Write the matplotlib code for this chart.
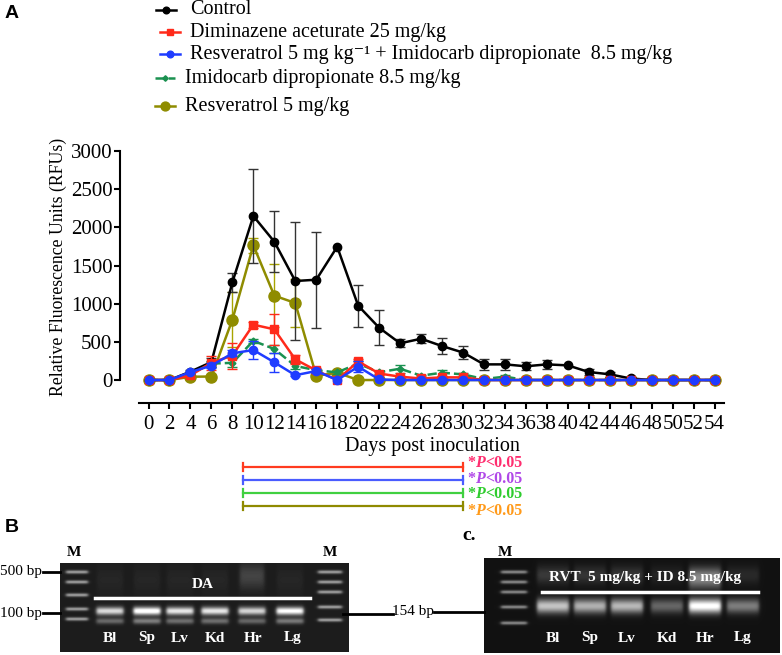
import numpy as np
import matplotlib.pyplot as plt
import matplotlib.transforms as mtransforms

plt.rcParams['font.family'] = ['Liberation Serif', 'DejaVu Serif']
plt.rcParams['mathtext.fontset'] = 'stix'

# ---- data ----
days = np.arange(0, 56, 2)

control = [0, 0, 110, 235, 1280, 2148, 1812, 1297, 1314, 1746, 974, 685, 481, 541,
           445, 360, 205, 205, 180, 205, 192, 105, 75, 20, 0, 0, 0, 0]
control_err = [0, 0, 20, 60, 125, 620, 400, 770, 630, 0, 275, 230, 50, 60,
               110, 90, 75, 75, 50, 55, 0, 45, 35, 0, 0, 0, 0, 0]

dimin = [0, 0, 60, 227, 320, 725, 664, 271, 125, 0, 245, 85, 44, 20,
         35, 35, 0, 0, 0, 0, 0, 0, 0, 0, 0, 0, 0, 0]
dimin_err = [0, 0, 15, 90, 170, 40, 200, 55, 30, 0, 30, 20, 10, 5,
             5, 5, 0, 0, 0, 0, 0, 0, 0, 0, 0, 0, 0, 0]

combo = [0, 0, 105, 188, 350, 393, 232, 63, 118, 0, 175, 8, 0, 0,
         0, 0, 0, 0, 0, 0, 0, 0, 0, 0, 0, 0, 0, 0]
combo_err = [0, 0, 10, 30, 40, 120, 125, 15, 20, 0, 70, 0, 0, 0,
             0, 0, 0, 0, 0, 0, 0, 0, 0, 0, 0, 0, 0, 0]

imido = [0, 0, 80, 215, 225, 513, 406, 185, 128, 100, 215, 102, 148, 57,
         96, 74, 13, 44, 0, 0, 0, 0, 0, 0, 0, 0, 0, 0]
imido_err = [0, 0, 10, 40, 60, 30, 50, 40, 20, 20, 40, 20, 50, 15,
             40, 20, 10, 20, 0, 0, 0, 0, 0, 0, 0, 0, 0, 0]

resv = [0, 0, 43, 46, 790, 1765, 1105, 1009, 55, 96, 0, 0, 0, 0,
        0, 0, 0, 0, 0, 0, 0, 0, 0, 0, 0, 0, 0, 0]
resv_err = [0, 0, 0, 0, 360, 100, 410, 310, 0, 0, 0, 0, 0, 0,
            0, 0, 0, 0, 0, 0, 0, 0, 0, 0, 0, 0, 0, 0]

labels = ["Control",
          "Diminazene aceturate 25 mg/kg",
          "Resveratrol 5 mg kg\u207b\u00b9 + Imidocarb dipropionate  8.5 mg/kg",
          "Imidocarb dipropionate 8.5 mg/kg",
          "Resveratrol 5 mg/kg"]
yticks = [0, 500, 1000, 1500, 2000, 2500, 3000]

sig_start, sig_end = 9, 30
sig_colors = ['#ff3b1f', '#4a5cff', '#40d040', '#8f8a00']
sig_text_colors = ['#ff2d6f', '#b048e8', '#2ecc2e', '#ff9a1a']

lanes = ["Bl", "Sp", "Lv", "Kd", "Hr", "Lg"]
gel_b_int = [0.75, 0.95, 0.8, 0.8, 0.72, 0.9]
gel_c_int = [0.7, 0.62, 0.65, 0.33, 0.95, 0.42]

# ---- style per series: (values, errors, color, marker, ms, ls, zorder, ecolor)
styles = {
    "resv": (resv, resv_err, '#8f8c00', 'o', 8, '-', 2, '#a8a400'),
    "control": (control, control_err, 'black', 'o', 6, '-', 3, '#333333'),
    "imido": (imido, imido_err, '#1a9150', 'D', 3.5, '--', 4, '#1a9150'),
    "dimin": (dimin, dimin_err, '#ff2a1a', 's', 6, '-', 5, '#ff2a1a'),
    "combo": (combo, combo_err, '#1f3cff', 'o', 6, '-', 6, '#1f3cff'),
}

W, H = 782, 655
fig = plt.figure(figsize=(W / 100, H / 100), dpi=100)
over = fig.add_axes([0, 0, 1, 1])
over.axis('off')

ax = fig.add_axes([139.3 / W, 1 - 402.7 / H, 584.7 / W, 251.7 / H])
ax.patch.set_alpha(0)

for key, (vals, errs, c, m, ms, ls, z, ec) in styles.items():
    vals = np.array(vals, float)
    errs = np.array(errs, float)
    ax.plot(days, vals, color=c, marker=m, ms=ms, ls=ls, lw=1.8, zorder=z, clip_on=False)
    sel = errs > 0
    ax.errorbar(days[sel], vals[sel], yerr=errs[sel], fmt='none', ecolor=ec,
                elinewidth=1, capsize=3.5, capthick=1, zorder=z - 0.5, clip_on=False)

ax.set_xlim(-0.88, 54.9)
ax.set_ylim(-297, 3000)
ax.set_xticks(days)
ax.set_xticklabels([str(d) for d in days])
ax.set_yticks(yticks)
ax.tick_params(axis='both', labelsize=15, width=1.5, length=4.5, direction='out')
ax.tick_params(axis='x', pad=4.5)
ax.tick_params(axis='y', pad=1)
for s in ['top', 'right']:
    ax.spines[s].set_visible(False)
ax.spines['left'].set_position(('axes', -0.033))
ax.spines['left'].set_bounds(0, 3000)
ax.spines['left'].set_linewidth(1.5)
ax.spines['bottom'].set_linewidth(1.5)

# axis titles
over.text(58, 267, "Relative Fluorescence Units (RFUs)", rotation=90, ha='center',
          va='center', fontsize=12.8)
over.text(432, 447, "Days post inoculation", ha='center', va='center', fontsize=14.5)

# legend drawn by hand
leg_rows = [(10, 156, 190, "control"), (32, 160, 190, "dimin"), (54, 160, 190, "combo"),
            (78, 155, 185, "imido"), (106, 155, 185, "resv")]
for (y, x0, tx, key), lab in zip(leg_rows, labels):
    vals, errs, c, m, ms, ls, z, ec = styles[key]
    over.plot([x0, x0 + 10, x0 + 20], [y, y, y], color=c, ls=ls, lw=1.8, marker=m,
              ms=ms * 0.8, markevery=[1])
    over.text(tx, y, lab, ha='left', va='center', fontsize=14.5)

# significance bars
trans = mtransforms.blended_transform_factory(ax.transData, over.transData)
sig_y = [467.3, 480.3, 493.3, 505.7]
sig_label_y = [463, 479, 494, 511]
for y, ty, c, tc in zip(sig_y, sig_label_y, sig_colors, sig_text_colors):
    over.plot([sig_start, sig_end], [y, y], color=c, lw=1.6, transform=trans)
    for d in (sig_start, sig_end):
        over.plot([d, d], [y - 4, y + 4], color=c, lw=1.6, transform=trans)
    t1 = over.text(467, ty, "*", color=tc, fontsize=11.5, fontweight='bold',
                   ha='left', va='center')
    t2 = over.annotate("P", xy=(1, 0), xycoords=t1, ha='left', va='bottom', color=tc,
                       fontsize=11.5, fontweight='bold', fontstyle='italic')
    over.annotate("<0.05", xy=(1, 0), xycoords=t2, ha='left', va='bottom', color=tc,
                  fontsize=11.5, fontweight='bold')


def gel(x0, x1, y0, y1, bg, bands):
    xs = np.arange(x0, x1) + 0.5
    ys = np.arange(y0, y1) + 0.5
    X, Y = np.meshgrid(xs, ys)
    img = np.full(X.shape, bg, float)
    for xc, yc, w, h, amp in bands:
        fx = 0.5 * (np.tanh((X - (xc - w / 2)) / 2.0) - np.tanh((X - (xc + w / 2)) / 2.0))
        fy = np.exp(-((Y - yc) / h) ** 2)
        img += amp * fx * fy
    over.imshow(np.clip(img, 0, 1), cmap='gray', vmin=0, vmax=1,
                extent=(x0, x1, y1, y0), aspect='auto', interpolation='bilinear')


# gel B
lane_b = [110, 147, 180, 215, 252, 290]
bands_b = []
for yc in [572, 582, 595, 609, 619]:
    bands_b.append((77, yc, 22, 1.8, 0.5))
for yc in [572, 582, 592, 607, 620]:
    bands_b.append((330, yc, 24, 1.8, 0.5))
for xc, a in zip(lane_b, gel_b_int):
    bands_b.append((xc, 611, 27, 4.0, a))
    bands_b.append((xc, 621, 27, 3.0, a * 0.4))
    bands_b.append((xc, 580, 26, 14, 0.04))
bands_b.append((252, 575, 24, 12, 0.12))
gel(60, 349, 563, 652, 0.11, bands_b)

# gel C
lane_c = [553, 590, 627, 667, 705, 743]
bands_c = []
for yc in [572, 582, 592, 607, 623]:
    bands_c.append((514, yc, 26, 1.8, 0.45))
for xc, a in zip(lane_c, gel_c_int):
    bands_c.append((xc, 606, 32, 7.0, a))
    bands_c.append((xc, 575, 32, 9.0, a * 0.22))
bands_c.append((705, 580, 32, 10, 0.3))
gel(484, 780, 558, 653, 0.07, bands_c)

over.set_xlim(0, W)
over.set_ylim(H, 0)

# gel annotations
over.plot([95, 310], [598, 598], color='white', lw=2.5)
over.text(203, 585, "DA", color='white', fontsize=11, fontweight='bold', ha='center', va='center')
over.plot([542, 758], [592, 592], color='white', lw=2.5)
over.text(645, 577, "RVT  5 mg/kg + ID 8.5 mg/kg", color='white', fontsize=11,
          fontweight='bold', ha='center', va='center')
lab_b = [110, 147, 180, 215, 253, 293]
for x, t in zip(lab_b, lanes):
    over.text(x, 638, t, color='white', fontsize=11, fontweight='bold', ha='center', va='center')
for x, t in zip(lane_c, lanes):
    over.text(x, 638, t, color='white', fontsize=11, fontweight='bold', ha='center', va='center')
for x in (74, 330, 505):
    over.text(x, 552, "M", fontsize=11, fontweight='bold', ha='center', va='center')

over.plot([43, 60], [572, 572], color='black', lw=2)
over.plot([43, 60], [613, 613], color='black', lw=2)
over.text(42, 572, "500 bp", fontsize=11, ha='right', va='center')
over.text(42, 613, "100 bp", fontsize=11, ha='right', va='center')
over.plot([343, 393], [614, 614], color='black', lw=2)
over.plot([434, 484], [612, 612], color='black', lw=2)
over.text(413, 612, "154 bp", fontsize=11, ha='center', va='center')

over.text(5, 13, "A", fontsize=14, fontweight='bold', family='Liberation Sans', va='center')
over.text(5, 527, "B", fontsize=14, fontweight='bold', family='Liberation Sans', va='center')
over.text(462, 535, "c.", fontsize=14, fontweight='bold', va='center')

fig.savefig("out.png", dpi=100)
